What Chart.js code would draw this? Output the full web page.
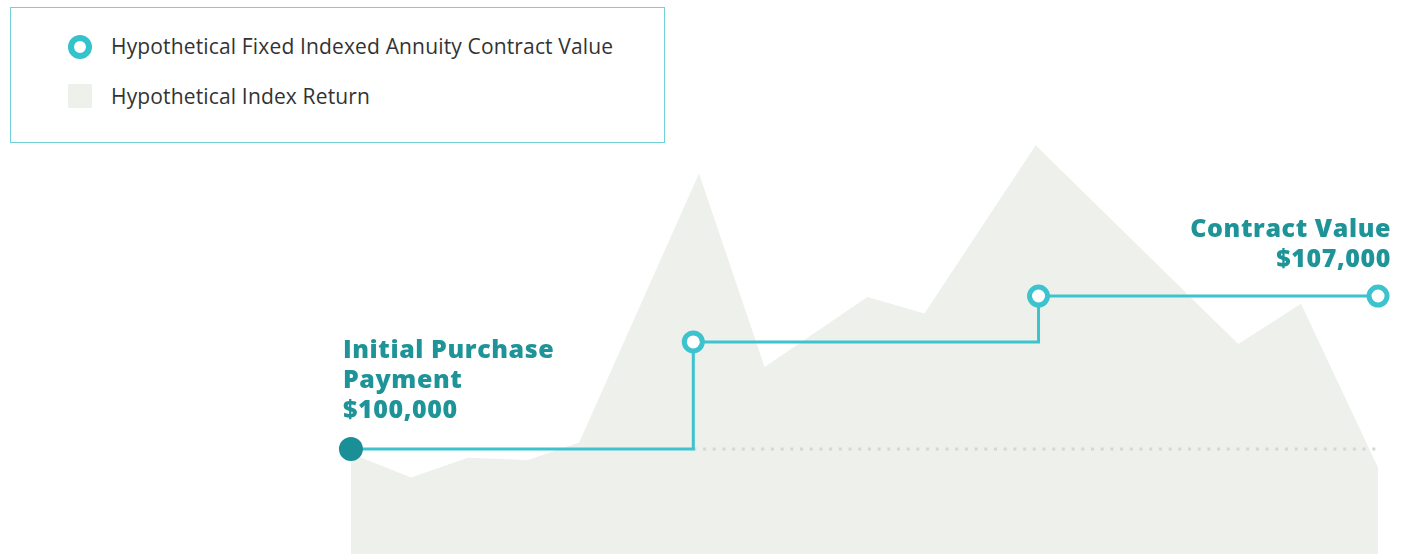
<!DOCTYPE html>
<html>
<head>
<meta charset="utf-8">
<script src="https://cdn.jsdelivr.net/npm/chart.js@4.4.0/dist/chart.umd.min.js"></script>
<style>
  body { margin: 0; background: #fff; font-family: "Open Sans", sans-serif; }
  #wrap { position: relative; width: 1408px; height: 554px; }
  #legend {
    position: absolute; left: 10px; top: 7px; width: 653px; height: 134px;
    border: 1.5px solid #72d0d7; background: #fff;
  }
  .item { position: absolute; left: 100px; font-size: 21px; letter-spacing: 0.15px; color: #333; line-height: 24px; }
  .ring {
    position: absolute; left: 57px; top: 27px; width: 12px; height: 12px;
    border: 6px solid #34c2cc; border-radius: 50%; background: #fff;
  }
  .box { position: absolute; left: 57px; top: 76px; width: 24px; height: 24px; background: #eef0ec; }
</style>
</head>
<body>
<div id="wrap">
  <canvas id="annuityChart" width="1408" height="554"></canvas>
  <div id="legend">
    <div class="ring"></div>
    <div class="item" style="top:26px">Hypothetical Fixed Indexed Annuity Contract Value</div>
    <div class="box"></div>
    <div class="item" style="top:76px">Hypothetical Index Return</div>
  </div>
</div>
<script>
// months since purchase
const indexMonths = [0, 2.1, 4.1, 6.2, 8, 12.2, 14.5, 18.1, 20.1, 24, 31.1, 33.3, 36];
const indexValues = [99800, 98700, 99600, 99500, 100300, 112600, 103750, 106950, 106200, 113900, 104800, 106650, 99150];

const contractMonths = [0, 12, 24.1, 36];
const contractValues = [100000, 104900, 107000, 107000];

const baselineMonths = [12, 36];
const baselineValues = [100000, 100000];

const startLabel = ['Initial Purchase', 'Payment', '$100,000'];
const endLabel = ['Contract Value', '$107,000'];

const teal = '#3dc3cd';
const darkTeal = '#1b8f96';
const labelTeal = '#1e9499';

function pts(xs, ys) {
    return xs.map((x, i) => ({ x: x, y: ys[i] }));
}

// texte des annotations, placé avec les échelles
const labelsPlugin = {
    id: 'labels',
    afterDatasetsDraw(chart) {
        const ctx = chart.ctx;
        const xs = chart.scales.x, ys = chart.scales.y;
        ctx.save();
        ctx.fillStyle = labelTeal;
        ctx.font = '800 25px "Open Sans"';
        ctx.letterSpacing = '0.6px';
        ctx.textBaseline = 'middle';

        let x0 = xs.getPixelForValue(contractMonths[0]) - 8;
        let y0 = ys.getPixelForValue(contractValues[0]);
        ctx.textAlign = 'left';
        startLabel.forEach((t, i) => ctx.fillText(t, x0, y0 - 98 + i * 30));

        let last = contractMonths.length - 1;
        let x1 = xs.getPixelForValue(contractMonths[last]) + 13;
        let y1 = ys.getPixelForValue(contractValues[last]);
        ctx.textAlign = 'right';
        endLabel.forEach((t, i) => ctx.fillText(t, x1, y1 - 66 + i * 30));
        ctx.restore();
    }
};

new Chart(document.getElementById('annuityChart').getContext('2d'), {
    type: 'line',
    data: {
        datasets: [
            {
                label: 'Hypothetical Fixed Indexed Annuity Contract Value',
                data: pts(contractMonths, contractValues),
                stepped: 'before',
                borderColor: teal,
                borderWidth: 3,
                pointRadius: [12, 9, 9, 9],
                pointBorderWidth: [0, 5, 5, 5],
                pointBackgroundColor: [darkTeal, '#fff', '#fff', '#fff'],
                pointBorderColor: [darkTeal, teal, teal, teal],
                fill: false,
                order: 1
            },
            {
                label: 'baseline',
                data: pts(baselineMonths, baselineValues),
                borderColor: '#d4d7d2',
                borderWidth: 3,
                borderDash: [3, 6.7],
                pointRadius: 0,
                fill: false,
                order: 2
            },
            {
                label: 'Hypothetical Index Return',
                data: pts(indexMonths, indexValues),
                borderWidth: 0,
                backgroundColor: '#eef0ec',
                pointRadius: 0,
                tension: 0,
                fill: 'start',
                order: 3
            }
        ]
    },
    options: {
        responsive: false,
        animation: false,
        layout: { padding: 0, autoPadding: false },
        plugins: { legend: { display: false }, tooltip: { enabled: false } },
        scales: {
            x: { type: 'linear', min: -12.3, max: 37.05, display: false },
            y: { min: 95200, max: 120540, display: false }
        }
    },
    plugins: [labelsPlugin]
});
</script>
</body>
</html>
